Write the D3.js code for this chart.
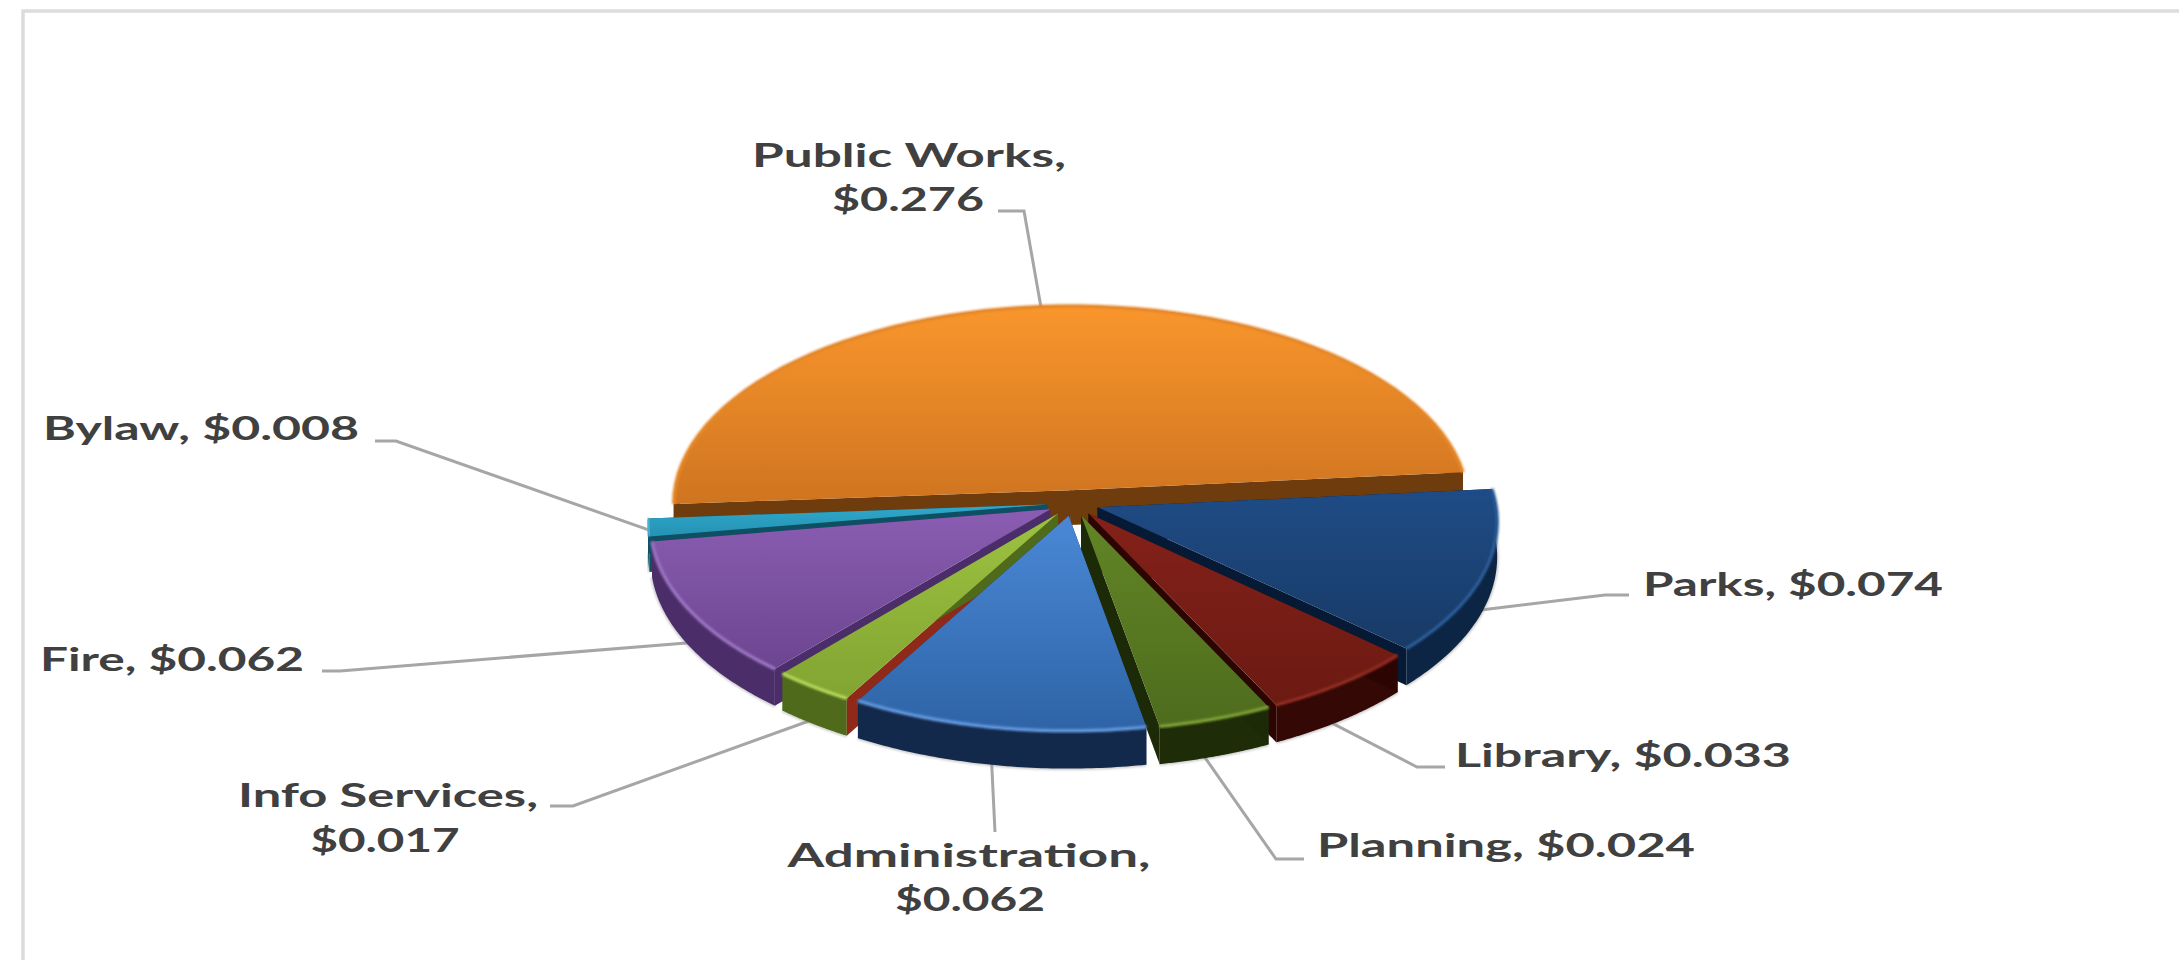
<!DOCTYPE html>
<html>
<head>
<meta charset="utf-8">
<script src="https://cdnjs.cloudflare.com/ajax/libs/d3/7.8.5/d3.min.js"></script>
<style>
html,body{margin:0;padding:0;background:#fff;overflow:hidden}
text{font-family:Lato,"Open Sans",sans-serif;font-weight:700;fill:#404040;font-size:32px}
</style>
</head>
<body>
<svg id="chart" width="2179" height="960"></svg>
<script>
// Budget allocation per department, in dollars
const departments = ["Public Works","Parks","Library","Planning","Administration","Info Services","Fire","Bylaw"];
const amounts = [0.276,0.074,0.033,0.024,0.062,0.017,0.062,0.008];

// Surface colours per department
const topLight  = ["#f9962c","#1f4c86","#84211a","#628526","#4a88d6","#9dc240","#8a5db2","#2fa9cc"];
const topDark   = ["#cf7420","#183a66","#6b1a12","#4e6c1d","#2e64a6","#82a432","#6c4590","#2592b2"];
const rimTone   = ["#e5872a","#2a5a94","#8f2a22","#7b9e34","#5f96dc","#b4d65a","#9a72c0","#4ab8d8"];
const wallTone  = ["#7a4310","#0d2544","#330805","#1e2c08","#13294c","#4e6a1a","#4b2e69","#125a70"];
const startFace = ["#6f3c0d","#061a36","#2c0503","#1c2a07","#13294c","#8f2a1a","#4b2e69","#0e4f63"];
const endFace   = ["#6f3c0d","#061a36","#2c0503","#1c2a07","#13294c","#4e6a1a","#4b2e69","#0e4f63"];

// Label placement: text centre, baseline and drawn width per line, then the leader's
// elbow points and how its far end sits on the slice (degrees off mid-angle, depth on the wall)
const labelLayout = {
  "Public Works":   {lines:[[909,167,314],[908,211,152]], elbow:[[998,211],[1024,211]], lean:0, drop:0},
  "Parks":          {lines:[[1793,596,300]], elbow:[[1629,595],[1605,595]], lean:0, drop:1.2},
  "Library":        {lines:[[1623,767,336]], elbow:[[1445,767],[1417,767]], lean:5, drop:0.6},
  "Planning":       {lines:[[1506,857,378]], elbow:[[1304,859],[1276,859]], lean:3, drop:0.6},
  "Administration": {lines:[[969,867,363],[970,911,150]], elbow:[[995,832]], lean:1.5, drop:0.5},
  "Info Services":  {lines:[[388,807,300],[385,852,149]], elbow:[[550,806],[573,806]], lean:0, drop:1},
  "Fire":           {lines:[[172,671,264]], elbow:[[322,671],[340,671]], lean:0, drop:1},
  "Bylaw":          {lines:[[201,440,316]], elbow:[[375,441],[396,441]], lean:0, drop:0.3}
};

const svg = d3.select("#chart");
const defs = svg.append("defs");
const TAU = 2 * Math.PI;

// Frame round the plot area
svg.append("path")
  .attr("d", d3.line()([[23,960],[23,11],[2179,11]]))
  .attr("fill","none").attr("stroke","#dcdcdc").attr("stroke-width",3.5);

// Disk projection with mild perspective: u to the right, v away from the viewer
const cx = 1073, cy = 503, radiusX = 398, radiusY = 198.5, persp = 0.0685, thickness = 35, explode = 0.065;
function project(u, v, down) {
  const w = 1 + persp * v;
  return [cx + radiusX * u / w, cy - radiusY * v / w + (down || 0) * thickness / w];
}

// The largest slice spans the far half of the disk; the rest follow clockwise
const startAngle = -94 / 360 * TAU;
const pie = d3.pie().sort(null).startAngle(startAngle).endAngle(startAngle + TAU);
const arcs = pie(amounts).map((a, i) => {
  const mid = (a.startAngle + a.endAngle) / 2;
  return {...a, i, name: departments[i], mid,
          ox: explode * Math.sin(mid), oy: explode * Math.cos(mid)};
});

const onDisk = (d, ang, r) => [d.ox + r * Math.sin(ang), d.oy + r * Math.cos(ang)];
const arcSamples = d => d3.range(0, 61).map(k => d.startAngle + (d.endAngle - d.startAngle) * k / 60);
const line = d3.line();

// Leader lines run from the label elbow to the outer wall near each slice's mid-angle
const leaders = svg.append("g");
arcs.forEach(d => {
  const layout = labelLayout[d.name];
  const [u, v] = onDisk(d, d.mid + layout.lean / 360 * TAU, 0.95);
  leaders.append("path")
    .attr("d", line([...layout.elbow, project(u, v, layout.drop)]))
    .attr("fill","none").attr("stroke","#a6a6a6").attr("stroke-width",3);
});

// Vertical gradients for the top surfaces
arcs.forEach(d => {
  const g = defs.append("linearGradient").attr("id","top"+d.i)
    .attr("x1",0).attr("y1",0).attr("x2",0).attr("y2",1);
  g.append("stop").attr("offset","0%").attr("stop-color",topLight[d.i]);
  g.append("stop").attr("offset","100%").attr("stop-color",topDark[d.i]);
});
defs.append("filter").attr("id","soft").append("feGaussianBlur").attr("stdDeviation",1.1);

// Slices are painted far to near so nearer walls cover farther ones
const painted = arcs.slice().sort((a, b) => d3.descending(Math.cos(a.mid), Math.cos(b.mid)));
const pieG = svg.append("g");

painted.forEach((d, order) => {
  const g = pieG.append("g").attr("class","slice");
  const samples = arcSamples(d);
  const topEdge = samples.map(a => project(...onDisk(d, a, 1), 0));
  const lowEdge = samples.map(a => project(...onDisk(d, a, 1), 1));
  const hubTop = project(d.ox, d.oy, 0);
  const hubLow = project(d.ox, d.oy, 1);

  // soft contact shadow along the lower rim
  if (Math.cos(d.mid) < 0.5) {
    g.append("path").attr("d", line(lowEdge)).attr("fill","none")
      .attr("stroke","#8a8a8a").attr("stroke-width",3).attr("opacity",0.45).attr("filter","url(#soft)");
  }
  // outer wall
  g.append("path").attr("d", line([...topEdge, ...lowEdge.slice().reverse()]) + "Z").attr("fill",wallTone[d.i]);
  // the two radial cut faces
  g.append("path").attr("d", line([hubTop, topEdge[0], lowEdge[0], hubLow]) + "Z").attr("fill",startFace[d.i]);
  g.append("path").attr("d", line([hubTop, topEdge[60], lowEdge[60], hubLow]) + "Z").attr("fill",endFace[d.i]);
  // top surface
  g.append("path").attr("d", line([hubTop, ...topEdge]) + "Z").attr("fill",`url(#top${d.i})`);
  // bevelled rim on the top surface
  g.append("path").attr("d", line(topEdge)).attr("fill","none")
    .attr("stroke",rimTone[d.i]).attr("stroke-width",3.5).attr("filter","url(#soft)");

  // dark core seen between the slice tips, right behind the nearer slices
  if (order === 0) {
    const tips = arcs.map(a => project(a.ox, a.oy, 0));
    pieG.append("path").attr("d", line(d3.polygonHull(tips)) + "Z").attr("fill","#6f3c0d");
  }
});

// Data labels
const money = d3.format("$.3f");
arcs.forEach(d => {
  const layout = labelLayout[d.name];
  const full = `${d.name}, ${money(d.value)}`;
  const rows = layout.lines.length === 2 ? [`${d.name},`, money(d.value)] : [full];
  rows.forEach((txt, k) => {
    const [x, y, width] = layout.lines[k];
    svg.append("text").attr("x", x).attr("y", y).attr("text-anchor","middle")
      .attr("textLength", width).attr("lengthAdjust","spacingAndGlyphs").text(txt);
  });
});
</script>
</body>
</html>
